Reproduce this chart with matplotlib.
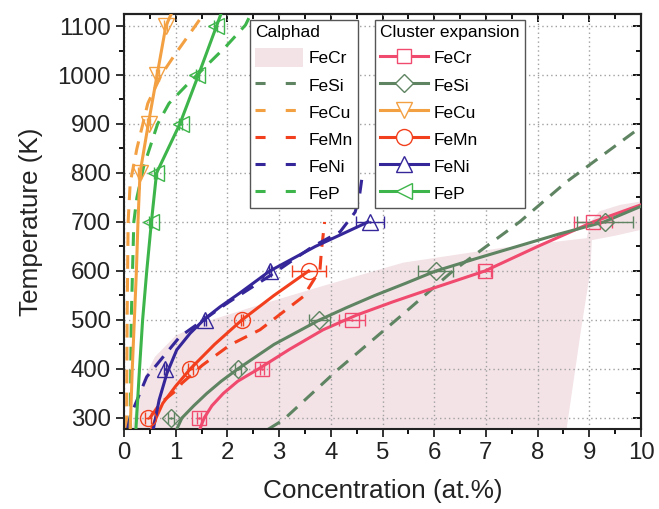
import matplotlib
matplotlib.use("Agg")
import matplotlib.pyplot as plt
from matplotlib.lines import Line2D
from matplotlib.patches import Patch

plt.rcParams['font.family'] = ['Liberation Sans', 'DejaVu Sans']

# ---------------- data ----------------
# Cluster expansion points (x = concentration at.%, T in K)
ce_fecr_x = [1.45, 2.67, 4.41, 6.98, 9.07]
ce_fecr_T = [300, 400, 500, 600, 700]
ce_fecr_err = [0.03, 0.03, 0.25, 0.12, 0.36]

ce_fesi_x = [0.91, 2.21, 3.78, 6.03, 9.30]
ce_fesi_T = [300, 400, 500, 600, 700]
ce_fesi_err = [0.06, 0.06, 0.20, 0.34, 0.54]

ce_femn_x = [0.47, 1.28, 2.28, 3.57]
ce_femn_T = [300, 400, 500, 600]
ce_femn_err = [0.06, 0.05, 0.02, 0.33]

ce_feni_x = [0.80, 1.57, 2.82, 4.76]
ce_feni_T = [400, 500, 600, 700]
ce_feni_err = [0.02, 0.02, 0.02, 0.27]

ce_fecu_x = [0.30, 0.48, 0.64, 0.81]
ce_fecu_T = [800, 900, 1000, 1100]
ce_fecu_err = [0.03, 0.03, 0.03, 0.03]

ce_fep_x = [0.52, 0.61, 1.10, 1.42, 1.77]
ce_fep_T = [700, 800, 900, 1000, 1100]
ce_fep_err = [0.03, 0.03, 0.03, 0.03, 0.03]

# Cluster expansion fitted curves
fit_fecr_T = [278, 300, 325, 350, 375, 400, 440, 480, 510, 537, 555, 600, 650, 700, 735]
fit_fecr_x = [1.47, 1.55, 1.70, 1.92, 2.20, 2.60, 3.20, 3.85, 4.50, 5.20, 5.70, 6.98, 8.00, 9.07, 10.0]

fit_fesi_T = [277, 300, 325, 350, 375, 400, 450, 500, 525, 550, 575, 600, 625, 650, 675, 700, 732]
fit_fesi_x = [1.02, 1.12, 1.35, 1.60, 1.88, 2.20, 2.90, 3.78, 4.30, 4.85, 5.45, 6.03, 6.80, 7.60, 8.40, 9.28, 10.0]

fit_femn_T = [277, 300, 330, 365, 400, 450, 500, 550, 600]
fit_femn_x = [0.53, 0.62, 0.75, 1.00, 1.28, 1.75, 2.28, 2.90, 3.57]

fit_feni_T = [279, 337, 391, 439, 473, 503, 527, 555, 600, 650, 700]
fit_feni_x = [0.57, 0.68, 0.83, 1.02, 1.28, 1.57, 1.86, 2.24, 2.82, 3.70, 4.72]

fit_fecu_T = [277, 400, 500, 600, 700, 800, 900, 1000, 1100, 1126]
fit_fecu_x = [0.12, 0.16, 0.20, 0.24, 0.27, 0.31, 0.47, 0.64, 0.81, 0.92]

fit_fep_T = [277, 400, 500, 600, 700, 800, 900, 1000, 1100, 1126]
fit_fep_x = [0.23, 0.30, 0.36, 0.44, 0.53, 0.63, 1.08, 1.44, 1.79, 1.88]

# Calphad curves
cal_fesi_T = [277, 296, 400, 514, 600, 700, 782, 894]
cal_fesi_x = [2.79, 3.08, 4.15, 5.42, 6.36, 7.65, 8.56, 10.0]

cal_fecu_T = [277, 500, 700, 780, 850, 942, 1000, 1041, 1096, 1126]
cal_fecu_x = [0.05, 0.06, 0.08, 0.12, 0.25, 0.46, 0.72, 0.98, 1.35, 1.55]

cal_femn_T = [300, 330, 357, 371, 408, 449, 480, 548, 602, 643, 700]
cal_femn_x = [0.50, 0.70, 1.02, 1.12, 1.52, 2.05, 2.63, 3.47, 3.79, 3.82, 3.88]

cal_feni_T = [277, 303, 384, 466, 534, 595, 650, 680, 720, 750, 788]
cal_feni_x = [0.07, 0.12, 0.44, 1.08, 1.99, 2.89, 3.65, 4.18, 4.47, 4.55, 4.60]

cal_fep_T = [277, 500, 700, 750, 813, 900, 942, 977, 1058, 1102, 1126]
cal_fep_x = [0.12, 0.14, 0.19, 0.25, 0.38, 0.65, 0.87, 1.19, 1.97, 2.35, 2.46]

# Calphad FeCr region boundary
cal_fecr_x = [0.15, 0.25, 0.38, 0.60, 1.00, 1.60, 2.50, 3.80, 5.40, 7.30, 8.95,
              9.02, 9.20, 9.60, 10.0, 10.0, 9.50, 9.05, 9.02, 8.84, 8.56]
cal_fecr_T = [277, 330, 380, 425, 468, 497, 527, 568, 617, 647, 667,
              700, 722, 735, 742, 684, 672, 663, 600, 480, 277]

labels = ['FeCr', 'FeSi', 'FeCu', 'FeMn', 'FeNi', 'FeP']
colors = {'FeCr': '#F04A6E', 'FeSi': '#5F8462', 'FeCu': '#F3A043',
          'FeMn': '#F2401E', 'FeNi': '#35269A', 'FeP': '#3DB54A'}
fill_color = '#F3E3E7'
markers = {'FeCr': 's', 'FeSi': 'D', 'FeCu': 'v', 'FeMn': 'o', 'FeNi': '^', 'FeP': '<'}
msizes = {'FeCr': 10.5, 'FeSi': 9.5, 'FeCu': 11.5, 'FeMn': 11.5, 'FeNi': 11.5, 'FeP': 11.5}

# ---------------- figure ----------------
fig = plt.figure(figsize=(6.59, 5.09), dpi=100)
ax = fig.add_axes([124/659, 1-429/509, 517/659, 415/509])
ax.set_xlim(0, 10)
ax.set_ylim(277.5, 1124.5)

lw = 2.2
dash = (4.5, 3.0)

ax.fill(cal_fecr_x, cal_fecr_T, color=fill_color, lw=0, zorder=0.1)

cal = {'FeSi': (cal_fesi_x, cal_fesi_T), 'FeCu': (cal_fecu_x, cal_fecu_T),
       'FeMn': (cal_femn_x, cal_femn_T), 'FeNi': (cal_feni_x, cal_feni_T),
       'FeP': (cal_fep_x, cal_fep_T)}
for k, (x, T) in cal.items():
    ax.plot(x, T, color=colors[k], lw=lw, dashes=dash, zorder=2)

fits = {'FeCr': (fit_fecr_x, fit_fecr_T), 'FeSi': (fit_fesi_x, fit_fesi_T),
        'FeCu': (fit_fecu_x, fit_fecu_T), 'FeMn': (fit_femn_x, fit_femn_T),
        'FeNi': (fit_feni_x, fit_feni_T), 'FeP': (fit_fep_x, fit_fep_T)}
for k, (x, T) in fits.items():
    ax.plot(x, T, color=colors[k], lw=lw, zorder=3, solid_joinstyle='round')

pts = {'FeCr': (ce_fecr_x, ce_fecr_T, ce_fecr_err), 'FeSi': (ce_fesi_x, ce_fesi_T, ce_fesi_err),
       'FeCu': (ce_fecu_x, ce_fecu_T, ce_fecu_err), 'FeMn': (ce_femn_x, ce_femn_T, ce_femn_err),
       'FeNi': (ce_feni_x, ce_feni_T, ce_feni_err), 'FeP': (ce_fep_x, ce_fep_T, ce_fep_err)}
for k, (x, T, e) in pts.items():
    ax.errorbar(x, T, xerr=e, fmt='none', ecolor=colors[k], elinewidth=1.0,
                capsize=4, capthick=1.0, zorder=4)
    ax.plot(x, T, ls='none', marker=markers[k], ms=msizes[k], mfc='none',
            mec=colors[k], mew=1.0, zorder=5)
    ax.plot(x, T, ls='none', marker='.', ms=1.5, color=colors[k], zorder=5)

# axes styling
ax.set_xticks(range(0, 11))
ax.set_xticks([i + 0.5 for i in range(10)], minor=True)
ax.set_yticks(range(300, 1101, 100))
ax.set_yticks(range(350, 1101, 100), minor=True)
ax.grid(True, which='major', color='#A0A0A0', lw=1.0, ls=(0, (1, 2.2)))
ax.set_axisbelow(True)
ax.tick_params(which='major', direction='out', length=6, width=1.3, labelsize=17.3,
               colors='#222222', pad=3.5)
ax.tick_params(which='minor', direction='out', length=3.5, width=1.3)
for s in ax.spines.values():
    s.set_linewidth(1.5)
    s.set_color('#222222')

secx = ax.secondary_xaxis('top')
secx.set_xticks(range(0, 11))
secx.set_xticks([i + 0.5 for i in range(10)], minor=True)
secx.tick_params(which='major', direction='in', length=6, width=1.3, labeltop=False)
secx.tick_params(which='minor', direction='in', length=3.5, width=1.3)
secx.spines['top'].set_linewidth(1.5)
secy = ax.secondary_yaxis('right')
secy.set_yticks(range(300, 1101, 100))
secy.set_yticks(range(350, 1101, 100), minor=True)
secy.tick_params(which='major', direction='in', length=6, width=1.3, labelright=False)
secy.tick_params(which='minor', direction='in', length=3.5, width=1.3)
secy.spines['right'].set_linewidth(1.5)

ax.set_xlabel('Concentration (at.%)', fontsize=18.8, color='#222222', labelpad=11)
ax.set_ylabel('Temperature (K)', fontsize=18.8, color='#222222', labelpad=10)

# legends
cal_handles = [Patch(facecolor=fill_color, edgecolor='none')]
for k in labels[1:]:
    cal_handles.append(Line2D([], [], color=colors[k], lw=lw, dashes=(3.3, 6.6)))
leg1 = ax.legend(cal_handles, labels, title='Calphad', loc='upper left',
                 bbox_to_anchor=(0.244, 0.986), borderaxespad=0, fontsize=12.5,
                 title_fontsize=12.5, alignment='left', handlelength=2.75,
                 handleheight=1.3, handletextpad=0.3, labelspacing=0.47,
                 fancybox=False, edgecolor='#555555', framealpha=1,
                 borderpad=0.3)
leg1.get_frame().set_linewidth(1.0)
ax.add_artist(leg1)

ce_handles = []
for k in labels:
    ce_handles.append(Line2D([], [], color=colors[k], lw=lw, marker=markers[k],
                             ms=msizes[k], mfc='white', mec=colors[k], mew=1.0))
leg2 = ax.legend(ce_handles, labels, title='Cluster expansion', loc='upper left',
                 bbox_to_anchor=(0.4855, 0.986), borderaxespad=0, fontsize=12.5,
                 title_fontsize=12.5, alignment='left', handlelength=2.75,
                 handleheight=1.3, handletextpad=0.3, labelspacing=0.47,
                 fancybox=False, edgecolor='#555555', framealpha=1,
                 borderpad=0.3, numpoints=1)
leg2.get_frame().set_linewidth(1.0)

fig.savefig('out.png', dpi=100)
